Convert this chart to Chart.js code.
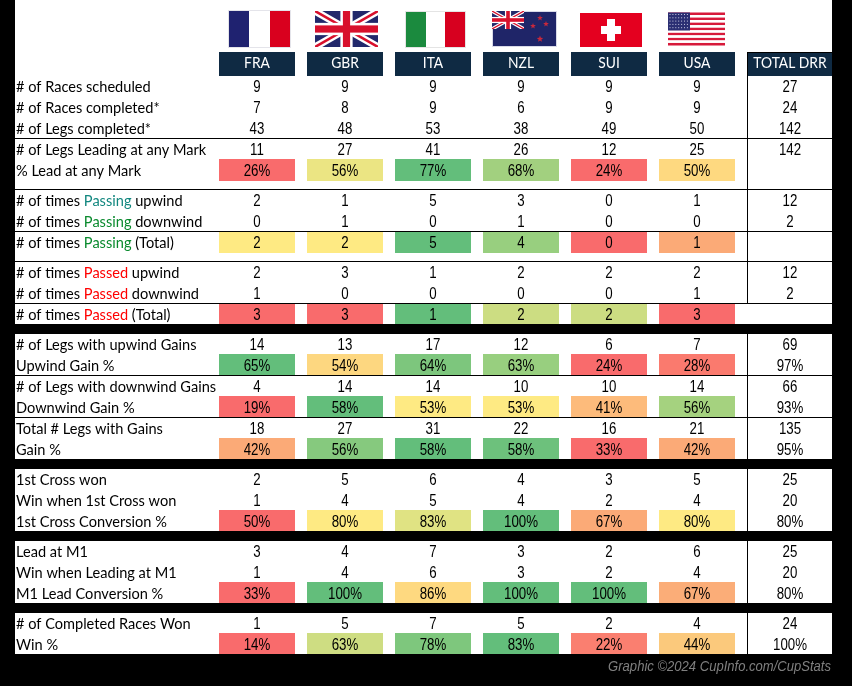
<!DOCTYPE html>
<html>
<head>
<meta charset="utf-8">
<style>
html, body { margin: 0; padding: 0; background: #000; }
canvas { display: block; }
</style>
<script src="https://cdn.jsdelivr.net/npm/chart.js@4/dist/chart.umd.min.js"></script>
</head>
<body>
<canvas id="statsChart" width="852" height="686"></canvas>
<script>
var teams = ['FRA', 'GBR', 'ITA', 'NZL', 'SUI', 'USA'];
var totalLabel = 'TOTAL DRR';

var rowLabels = [
    '# of Races scheduled', '# of Races completed*', '# of Legs completed*',
    '# of Legs Leading at any Mark', '% Lead at any Mark',
    '# of times Passing upwind', '# of times Passing downwind', '# of times Passing (Total)',
    '# of times Passed upwind', '# of times Passed downwind', '# of times Passed (Total)',
    '# of Legs with upwind Gains', 'Upwind Gain %',
    '# of Legs with downwind Gains', 'Downwind Gain %',
    'Total # Legs with Gains', 'Gain %',
    '1st Cross won', 'Win when 1st Cross won', '1st Cross Conversion %',
    'Lead at M1', 'Win when Leading at M1', 'M1 Lead Conversion %',
    '# of Completed Races Won', 'Win %'
];

// One list per team, same order as rowLabels
var fraValues = [9, 7, 43, 11, 26, 2, 0, 2, 2, 1, 3, 14, 65, 4, 19, 18, 42, 2, 1, 50, 3, 1, 33, 1, 14];
var gbrValues = [9, 8, 48, 27, 56, 1, 1, 2, 3, 0, 3, 13, 54, 14, 58, 27, 56, 5, 4, 80, 4, 4, 100, 5, 63];
var itaValues = [9, 9, 53, 41, 77, 5, 0, 5, 1, 0, 1, 17, 64, 14, 53, 31, 58, 6, 5, 83, 7, 6, 86, 7, 78];
var nzlValues = [9, 6, 38, 26, 68, 3, 1, 4, 2, 0, 2, 12, 63, 10, 53, 22, 58, 4, 4, 100, 3, 3, 100, 5, 83];
var suiValues = [9, 9, 49, 12, 24, 0, 0, 0, 2, 0, 2, 6, 24, 10, 41, 16, 33, 3, 2, 67, 2, 2, 100, 2, 22];
var usaValues = [9, 9, 50, 25, 50, 1, 0, 1, 2, 1, 3, 7, 28, 14, 56, 21, 42, 5, 4, 80, 6, 4, 67, 4, 44];
var totalValues = [27, 24, 142, 142, null, 12, 2, null, 12, 2, null, 69, 97, 66, 93, 135, 95, 25, 20, 80, 25, 20, 80, 24, 100];

var percentRows = [4, 12, 14, 16, 19, 22, 24];
var heatRows = [4, 7, 10, 12, 14, 16, 19, 22, 24];

// Colour of each heat row cell
var heatColors = {
    4: ['#F96B6C', '#EBE583', '#63BE7B', '#A2D07F', '#F96B6C', '#FED980'],
    7: ['#FEEA83', '#FEEA83', '#63BE7B', '#98CF7F', '#F96B6C', '#FBAA77'],
    10: ['#F96B6C', '#F96B6C', '#63BE7B', '#CCDD82', '#CCDD82', '#F96B6C'],
    12: ['#63BE7B', '#FDD780', '#7DC67D', '#98CF7F', '#F96B6C', '#FA7A6E'],
    14: ['#F96B6C', '#63BE7B', '#FEEA83', '#FEEA83', '#FDBB7B', '#A5D27F'],
    16: ['#FBAA77', '#86C97E', '#63BE7B', '#6DC17C', '#F96B6C', '#FBAA77'],
    19: ['#F96B6C', '#FEEA83', '#E0E383', '#63BE7B', '#FBAA77', '#FEEA83'],
    22: ['#F96B6C', '#63BE7B', '#FED980', '#63BE7B', '#63BE7B', '#FBAD78'],
    24: ['#F96B6C', '#CEDD82', '#7EC77D', '#63BE7B', '#FA7F70', '#FBC97C']
};

var columns = [fraValues, gbrValues, itaValues, nzlValues, suiValues, usaValues];
var allColumns = teams.concat([totalLabel]);

var ROW_PX = 21;
var GAP = 9 / ROW_PX;
var groupStarts = [5, 8, 11, 17, 20, 23];   // a gap sits before these rows
var ruleRows = [3, 5, 7, 8, 10, 13, 15];    // a black rule sits above these rows

// Top of a row in row units, the y scale has row 0 starting at 0
function rowTop(i) {
    return i + GAP * groupStarts.filter(function(s) { return s <= i; }).length;
}

// Heat cells sit a pixel off the row grid, differently per block
function cellEdges(i) {
    if (i === 4) return [-1, 21];
    if (i === 7) return [0, 21];
    if (i === 10) return [0, 20];
    return [-1, 20];
}

var cellData = [];
var cellColors = [];
teams.forEach(function(t) {
    cellData.push({ x: t, y: [-24 / ROW_PX, 0] });
    cellColors.push('#0F2A43');
});
heatRows.forEach(function(r) {
    var e = cellEdges(r);
    teams.forEach(function(t, c) {
        cellData.push({ x: t, y: [rowTop(r) + e[0] / ROW_PX, rowTop(r) + e[1] / ROW_PX] });
        cellColors.push(heatColors[r][c]);
    });
});

var LABEL_FONT = '15.2px Lato';
var LABEL_SQUEEZE = 0.96;
var HEAD_FONT = '15.2px Lato';
var HEAD_SQUEEZE = 0.91;
var NUM_FONT = '16px "Liberation Sans"';
var NUM_SQUEEZE = 0.83;

function drawText(ctx, text, x, y, font, color, align, squeeze) {
    ctx.save();
    ctx.font = font;
    ctx.fillStyle = color;
    ctx.textAlign = align || 'center';
    ctx.textBaseline = 'middle';
    ctx.translate(x, y);
    ctx.scale(squeeze || 1, 1);
    ctx.fillText(text, 0, 0);
    ctx.restore();
}

// Row label with the coloured Passing / Passed word
function drawLabel(ctx, label, x, y, rowIndex) {
    var word = label.indexOf('Passing') >= 0 ? 'Passing' : (label.indexOf('Passed') >= 0 ? 'Passed' : null);
    if (!word) {
        drawText(ctx, label, x, y, LABEL_FONT, '#000', 'left', LABEL_SQUEEZE);
        return;
    }
    var parts = label.split(word);
    var color = word === 'Passed' ? '#FF0000' : (rowIndex === 5 ? '#12877F' : '#0A8A2E');
    ctx.font = LABEL_FONT;
    var w1 = ctx.measureText(parts[0]).width * LABEL_SQUEEZE;
    var w2 = ctx.measureText(word).width * LABEL_SQUEEZE;
    drawText(ctx, parts[0], x, y, LABEL_FONT, '#000', 'left', LABEL_SQUEEZE);
    drawText(ctx, word, x + w1, y, LABEL_FONT, color, 'left', LABEL_SQUEEZE);
    drawText(ctx, parts[1], x + w1 + w2, y, LABEL_FONT, '#000', 'left', LABEL_SQUEEZE);
}

function crossFlag(ctx, x, y, w, h, navy, red) {
    ctx.save();
    ctx.beginPath();
    ctx.rect(x, y, w, h);
    ctx.clip();
    ctx.fillStyle = navy;
    ctx.fillRect(x, y, w, h);
    ctx.lineCap = 'butt';
    ctx.strokeStyle = '#fff';
    ctx.lineWidth = h * 0.2;
    ctx.beginPath();
    ctx.moveTo(x, y); ctx.lineTo(x + w, y + h);
    ctx.moveTo(x + w, y); ctx.lineTo(x, y + h);
    ctx.stroke();
    ctx.strokeStyle = red;
    ctx.lineWidth = h * 0.07;
    ctx.stroke();
    ctx.fillStyle = '#fff';
    ctx.fillRect(x + w / 2 - h * 0.17, y, h * 0.34, h);
    ctx.fillRect(x, y + h * 0.33, w, h * 0.34);
    ctx.fillStyle = red;
    ctx.fillRect(x + w / 2 - h * 0.1, y, h * 0.2, h);
    ctx.fillRect(x, y + h * 0.4, w, h * 0.2);
    ctx.restore();
}

function drawStar(ctx, cx, cy, r, color) {
    ctx.fillStyle = color;
    ctx.beginPath();
    for (var i = 0; i < 10; i++) {
        var a = -Math.PI / 2 + i * Math.PI / 5;
        var rr = i % 2 ? r * 0.42 : r;
        ctx.lineTo(cx + rr * Math.cos(a), cy + rr * Math.sin(a));
    }
    ctx.closePath();
    ctx.fill();
}

function drawFlags(ctx) {
    // France
    ctx.fillStyle = '#E4E4EA'; ctx.fillRect(228, 10, 63, 38);
    ctx.fillStyle = '#1F2270'; ctx.fillRect(229, 11, 20, 36);
    ctx.fillStyle = '#fff'; ctx.fillRect(249, 11, 21, 36);
    ctx.fillStyle = '#D9001E'; ctx.fillRect(270, 11, 20, 36);
    // Great Britain
    crossFlag(ctx, 315, 11, 63, 36, '#22286B', '#D8102C');
    // Italy
    ctx.fillStyle = '#E4E4E4'; ctx.fillRect(405, 11, 61, 37);
    ctx.fillStyle = '#1B8A3E'; ctx.fillRect(406, 12, 20, 35);
    ctx.fillStyle = '#fff'; ctx.fillRect(426, 12, 19, 35);
    ctx.fillStyle = '#D7001F'; ctx.fillRect(445, 12, 20, 35);
    // New Zealand
    ctx.fillStyle = '#D9DAE8'; ctx.fillRect(492, 11, 65, 36);
    ctx.fillStyle = '#1F2568'; ctx.fillRect(493, 12, 63, 34);
    crossFlag(ctx, 492, 11, 32, 18, '#22286B', '#D8102C');
    drawStar(ctx, 540, 18, 3, '#C8283C');
    drawStar(ctx, 533, 26, 3, '#C8283C');
    drawStar(ctx, 546, 24, 3, '#C8283C');
    drawStar(ctx, 540, 39, 3.4, '#C8283C');
    // Switzerland
    ctx.fillStyle = '#E4001F'; ctx.fillRect(580, 13, 62, 34);
    ctx.fillStyle = '#fff';
    ctx.fillRect(607, 19, 8, 22);
    ctx.fillRect(601, 26, 20, 8);
    // United States
    for (var s = 0; s < 13; s++) {
        ctx.fillStyle = s % 2 ? '#fff' : '#D7193A';
        ctx.fillRect(668, 12.5 + s * 33 / 13, 57, 33 / 13);
    }
    ctx.fillStyle = '#2B2F73'; ctx.fillRect(668, 12.5, 22, 18);
    ctx.fillStyle = '#C9CBE2';
    for (var a = 0; a < 5; a++) {
        for (var b = 0; b < 7; b++) {
            ctx.fillRect(669.5 + b * 2.9, 14 + a * 3.3, 1, 1);
        }
    }
}

// White panel, black bands, rules and flags go under the cells
var sheetBackground = {
    id: 'sheetBackground',
    beforeDatasetsDraw: function(chart) {
        var ctx = chart.ctx;
        var yScale = chart.scales.y;
        ctx.fillStyle = '#000';
        ctx.fillRect(0, 0, 852, 686);
        ctx.fillStyle = '#fff';
        ctx.fillRect(15, 0, 817, 654);
        // black bands in front of the later blocks
        ctx.fillStyle = '#000';
        [11, 17, 20, 23].forEach(function(r) {
            ctx.fillRect(15, yScale.getPixelForValue(rowTop(r)) - 10, 817, 10);
        });
        drawFlags(ctx);
    },
    afterDatasetsDraw: function(chart) {
        var ctx = chart.ctx;
        var xScale = chart.scales.x;
        var yScale = chart.scales.y;
        var totalX = xScale.getPixelForValue(6) + 5;

        // total header box
        ctx.fillStyle = '#0F2A43';
        ctx.fillRect(748, 52, 84, 24);
        ctx.fillStyle = '#000';
        ctx.fillRect(748, 52, 84, 1);

        // rules
        ruleRows.forEach(function(r) {
            ctx.fillRect(15, Math.round(yScale.getPixelForValue(rowTop(r))) - 1, 817, 1);
        });
        // vertical rule next to the totals
        ctx.fillRect(747, 52, 1, 252);
        ctx.fillRect(747, 334, 1, 320);

        // header labels
        teams.forEach(function(t, c) {
            drawText(ctx, t, xScale.getPixelForValue(c), 63.5, HEAD_FONT, '#fff', 'center', HEAD_SQUEEZE);
        });
        drawText(ctx, totalLabel, totalX, 63.5, HEAD_FONT, '#fff', 'center', HEAD_SQUEEZE);

        // rows
        rowLabels.forEach(function(label, r) {
            var y = yScale.getPixelForValue(rowTop(r) + 11.5 / ROW_PX);
            var pct = percentRows.indexOf(r) >= 0 ? '%' : '';
            drawLabel(ctx, label, 16, y, r);
            columns.forEach(function(col, c) {
                drawText(ctx, col[r] + pct, xScale.getPixelForValue(c), y, NUM_FONT, '#000', 'center', NUM_SQUEEZE);
            });
            if (totalValues[r] !== null) {
                drawText(ctx, totalValues[r] + pct, totalX, y, NUM_FONT, '#000', 'center', NUM_SQUEEZE);
            }
        });

        // credit line
        drawText(ctx, 'Graphic \u00A92024 CupInfo.com/CupStats', 831, 667, 'italic 14.5px "Liberation Sans"', '#7F7F7F', 'right', 0.9);
    }
};

new Chart(document.getElementById('statsChart'), {
    type: 'bar',
    data: {
        labels: allColumns,
        datasets: [{
            label: 'Cells',
            data: cellData,
            backgroundColor: cellColors,
            borderWidth: 0,
            borderSkipped: false,
            barPercentage: 76 / 88,
            categoryPercentage: 1
        }]
    },
    options: {
        responsive: false,
        devicePixelRatio: 1,
        animation: false,
        layout: { padding: { left: 213, right: 23, top: 0, bottom: 0 } },
        plugins: { legend: { display: false }, tooltip: { enabled: false } },
        scales: {
            x: { type: 'category', display: false, grid: { display: false } },
            y: {
                type: 'linear',
                display: false,
                reverse: true,
                min: -76 / ROW_PX,
                max: (686 - 76) / ROW_PX,
                grid: { display: false }
            }
        }
    },
    plugins: [sheetBackground]
});
</script>
</body>
</html>
